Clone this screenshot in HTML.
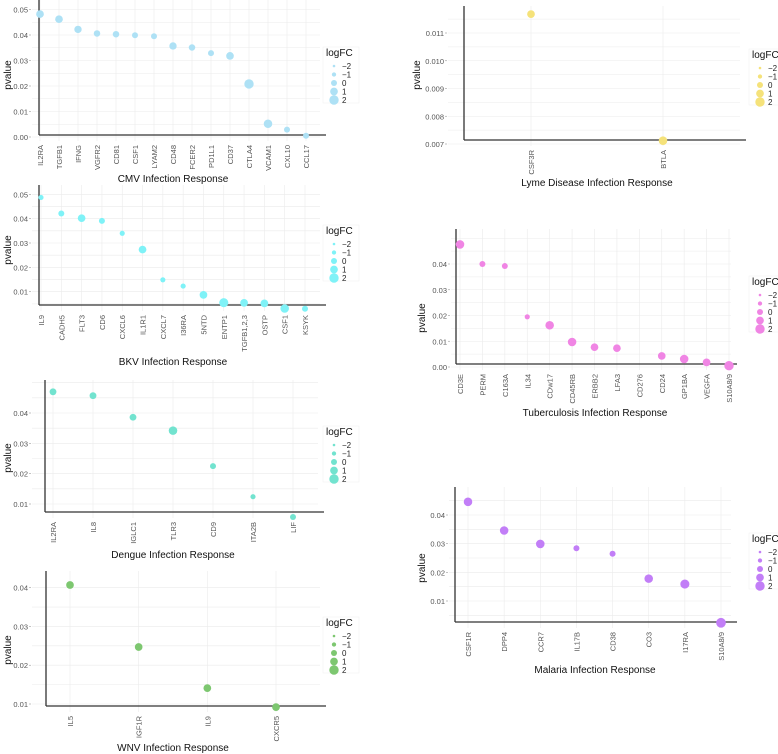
<!DOCTYPE html>
<html><head><meta charset="utf-8"><style>
html,body{margin:0;padding:0;background:#fff;}
svg{display:block;font-family:"Liberation Sans",Arial,sans-serif;}
</style></head><body>
<svg id="fig" width="778" height="754" viewBox="0 0 778 754" xmlns="http://www.w3.org/2000/svg"></svg>
<script>
// ---- data ----
const cmvGenes=["IL2RA","TGFB1","IFNG","VGFR2","CD81","CSF1","LYAM2","CD48","FCER2","PD1L1","CD37","CTLA4","VCAM1","CXL10","CCL17"];
const cmvPvalue=[0.0482,0.0462,0.0422,0.0406,0.0403,0.0399,0.0395,0.0357,0.0351,0.0329,0.0318,0.0208,0.0052,0.0029,0.0005];
const cmvLogFC=[1,1,0.8,0.3,0.3,0,0,0.8,0.3,0,1,2,1.5,0,0];
const cmvTicks=["0.00","0.01","0.02","0.03","0.04","0.05"];

const bkvGenes=["IL9","CADH5","FLT3","CD6","CXCL6","IL1R1","CXCL7","I36RA","5NTD","ENTP1","TGFB1,2,3","OSTP","CSF1","KSYK"];
const bkvPvalue=[0.0487,0.0421,0.0402,0.0391,0.0340,0.0273,0.0149,0.0123,0.0087,0.0055,0.0054,0.0052,0.0031,0.0030];
const bkvLogFC=[-0.5,0,1,0,-0.5,1,-0.5,-0.5,1,1.8,1,1,1.5,0];
const bkvTicks=["0.01","0.02","0.03","0.04","0.05"];

const dengueGenes=["IL2RA","IL8","IGLC1","TLR3","CD9","ITA2B","LIF"];
const denguePvalue=[0.0470,0.0457,0.0386,0.0342,0.0225,0.0124,0.0057];
const dengueLogFC=[0.5,0.5,0.5,1.5,0,-0.5,0];
const dengueTicks=["0.01","0.02","0.03","0.04"];

const wnvGenes=["IL5","IGF1R","IL9","CXCR5"];
const wnvPvalue=[0.0407,0.0247,0.0141,0.0092];
const wnvLogFC=[1,1,1,1];
const wnvTicks=["0.01","0.02","0.03","0.04"];

const lymeGenes=["CSF3R","BTLA"];
const lymePvalue=[0.01168,0.00712];
const lymeLogFC=[1,1.5];
const lymeTicks=["0.007","0.008","0.009","0.010","0.011"];

const tbGenes=["CD3E","PERM","C163A","IL34","CDw17","CD45RB","ERBB2","LFA3","CD276","CD24","GP1BA","VEGFA","S10A8/9"];
const tbPvalue=[0.0476,0.0400,0.0392,0.0195,0.0162,0.0097,0.0077,0.0073,null,0.0043,0.0031,0.0018,0.0005];
const tbLogFC=[1.5,0,0,-0.5,1.5,1.5,1,1,0,1,1.5,1,2];
const tbTicks=["0.00","0.01","0.02","0.03","0.04"];

const malariaGenes=["CSF1R","DPP4","CCR7","IL17B","CD38","CO3","I17RA","S10A8/9"];
const malariaPvalue=[0.0446,0.0346,0.0299,0.0284,0.0265,0.0178,0.0159,0.0024];
const malariaLogFC=[1.5,1.5,1.5,0,0,1.5,1.8,2.2];
const malariaTicks=["0.01","0.02","0.03","0.04"];

// ---- drawing ----
const NS="http://www.w3.org/2000/svg";
const fig=document.getElementById('fig');
function mk(tag,attrs,parent,text){const e=document.createElementNS(NS,tag);for(const k in attrs)e.setAttribute(k,attrs[k]);if(text!==undefined)e.textContent=text;parent.appendChild(e);return e;}
function radius(l){return 3+0.85*l;}

function panel(o){
  const g=mk('g',{},fig);
  
  
  const per=(o.p2-o.p1)/(o.v2-o.v1);
  const yS=v=>o.p1+(v-o.v1)*per;
  const n=o.genes.length;
  const step=n>1?(o.xLast-o.xFirst)/(n-1):0;
  const xS=i=>o.xFirst+i*step;
  const gridBottom=o.axisY+6;
  const grid=mk('g',{stroke:'#ebebeb','stroke-width':0.6},g);
  
  
  const tv=o.ticks.map(Number);
  const dt=tv.length>1?tv[1]-tv[0]:0.01;
  for(let v=tv[0]-dt/2;v<=tv[tv.length-1]+dt;v+=dt/2){
    const y=yS(v); if(y<o.top||y>gridBottom)continue;
    mk('line',{x1:o.gridLeft,x2:o.right,y1:y,y2:y},grid);
  }
  for(let i=0;i<n;i++) mk('line',{x1:xS(i),x2:xS(i),y1:o.top,y2:gridBottom},grid);
  const ax=mk('line',{x1:o.axisX,x2:o.right+6,y1:o.axisY,y2:o.axisY,stroke:'#333','stroke-width':1.3},g);
  
  
  const ay=mk('line',{x1:o.axisX,x2:o.axisX,y1:o.top,y2:o.axisY,stroke:'#333','stroke-width':1.3},g);
  
  
  o.ticks.forEach(t=>{
    const y=yS(Number(t));
    const tx=mk('text',{x:o.gridLeft-4,y:y+3,'font-size':7.5,fill:'#555','text-anchor':'end'},g,t);
    
    
    mk('line',{x1:o.gridLeft-3,x2:o.gridLeft-1,y1:y,y2:y,stroke:'#999','stroke-width':0.6},g);
  });
  o.genes.forEach((gn,i)=>{
    const x=xS(i), y=o.axisY+10;
    const tx=mk('text',{x:x+3,y:y,'font-size':7.5,fill:'#555','text-anchor':'end',transform:`rotate(-90 ${x+3} ${y})`},g,gn);
    
    
  });
  o.pv.forEach((p,i)=>{
    if(p===null)return;
    const c=mk('circle',{cx:xS(i),cy:yS(p),r:radius(o.lfc[i]),fill:o.color},g);
    
    
  });
  const yl=mk('text',{x:o.ylabX,y:o.ylabY,'font-size':10,fill:'#111','text-anchor':'middle',transform:`rotate(-90 ${o.ylabX} ${o.ylabY})`},g,'pvalue');
  
  
  const xl=mk('text',{x:o.titleX,y:o.titleY,'font-size':10,fill:'#111','text-anchor':'middle'},g,o.title);
  
  
  const lg=mk('g',{},g);
  
  
  mk('rect',{x:o.legX-3,y:o.legY-9,width:36,height:56,fill:'#fff',stroke:'#f2f2f2','stroke-width':0.6},lg);
  mk('text',{x:o.legX,y:o.legY,'font-size':10,fill:'#111'},lg,'logFC');
  ["\u22122","\u22121","0","1","2"].forEach((s,k)=>{
    const y=o.legY+10+k*8.5;
    const c=mk('circle',{cx:o.legX+8,cy:y,r:radius(k-2),fill:o.color},lg);
    
    
    mk('text',{x:o.legX+16,y:y+3,'font-size':8,fill:'#222'},lg,s);
  });
}

panel({name:'cmv',genes:cmvGenes,pv:cmvPvalue,lfc:cmvLogFC,ticks:cmvTicks,color:'#aee1f5',
  v1:0.05,p1:9.5,v2:0,p2:137,axisX:39,axisY:135,gridLeft:32,top:0,right:320,xFirst:40,xLast:306,
  ylabX:11,ylabY:75,titleX:173,titleY:182,title:'CMV Infection Response',legX:326,legY:56});
panel({name:'bkv',genes:bkvGenes,pv:bkvPvalue,lfc:bkvLogFC,ticks:bkvTicks,color:'#7ff2f7',
  v1:0.05,p1:194.3,v2:0.01,p2:291.7,axisX:39,axisY:305,gridLeft:32,top:185,right:320,xFirst:41,xLast:305,
  ylabX:11,ylabY:250,titleX:173,titleY:365,title:'BKV Infection Response',legX:326,legY:234});
panel({name:'dengue',genes:dengueGenes,pv:denguePvalue,lfc:dengueLogFC,ticks:dengueTicks,color:'#72e3cf',
  v1:0.04,p1:413,v2:0.01,p2:504,axisX:45,axisY:512,gridLeft:32,top:380,right:318,xFirst:53,xLast:293,
  ylabX:11,ylabY:458,titleX:173,titleY:558,title:'Dengue Infection Response',legX:326,legY:435});
panel({name:'wnv',genes:wnvGenes,pv:wnvPvalue,lfc:wnvLogFC,ticks:wnvTicks,color:'#7dc770',
  v1:0.04,p1:587.7,v2:0.01,p2:704,axisX:46,axisY:706,gridLeft:32,top:571,right:320,xFirst:70,xLast:276,
  ylabX:11,ylabY:650,titleX:173,titleY:751,title:'WNV Infection Response',legX:326,legY:626});
panel({name:'lyme',genes:lymeGenes,pv:lymePvalue,lfc:lymeLogFC,ticks:lymeTicks,color:'#f5e27a',
  v1:0.011,p1:33,v2:0.007,p2:144,axisX:464,axisY:140,gridLeft:448,top:6,right:740,xFirst:531,xLast:663,
  ylabX:420,ylabY:75,titleX:597,titleY:186,title:'Lyme Disease Infection Response',legX:752,legY:58});
panel({name:'tuberculosis',genes:tbGenes,pv:tbPvalue,lfc:tbLogFC,ticks:tbTicks,color:'#f085e4',
  v1:0.04,p1:264,v2:0,p2:367,axisX:456,axisY:364,gridLeft:451,top:229,right:731,xFirst:460,xLast:729,
  ylabX:425,ylabY:318,titleX:595,titleY:416,title:'Tuberculosis Infection Response',legX:752,legY:285});
panel({name:'malaria',genes:malariaGenes,pv:malariaPvalue,lfc:malariaLogFC,ticks:malariaTicks,color:'#c27ef7',
  v1:0.04,p1:515,v2:0.01,p2:601,axisX:455,axisY:622,gridLeft:449,top:487,right:731,xFirst:468,xLast:721,
  ylabX:425,ylabY:568,titleX:595,titleY:673,title:'Malaria Infection Response',legX:752,legY:542});
</script>
</body></html>
